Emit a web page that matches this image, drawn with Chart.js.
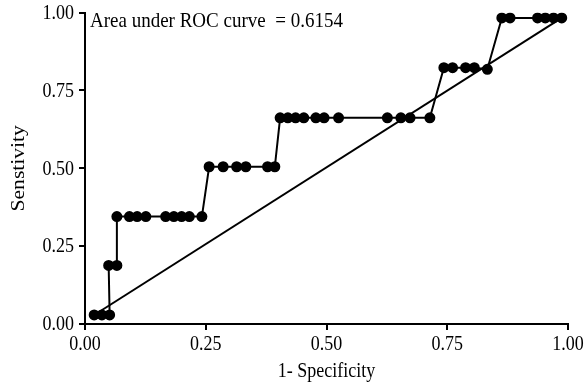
<!DOCTYPE html>
<html>
<head>
<meta charset="utf-8">
<script src="https://cdn.jsdelivr.net/npm/chart.js@4.4.1/dist/chart.umd.min.js"></script>
<style>
  html, body { margin: 0; padding: 0; background: #fff; }
  #wrap { width: 585px; height: 385px; }
</style>
</head>
<body>
<div id="wrap"><canvas id="rocChart" width="585" height="385"></canvas></div>
<script>
// 1 - specificity (x) and sensitivity (y) of the ROC curve points
const specX = [0.019, 0.035, 0.051, 0.049, 0.066, 0.066, 0.092, 0.108, 0.126, 0.167, 0.184, 0.200, 0.216, 0.242,
    0.257, 0.286, 0.314, 0.333, 0.378, 0.393,
    0.404, 0.420, 0.436, 0.453, 0.478, 0.495, 0.525, 0.626, 0.654, 0.673, 0.714,
    0.743, 0.761, 0.788, 0.806, 0.833,
    0.863, 0.880, 0.937, 0.953, 0.970, 0.987];
const sensY = [0.029, 0.029, 0.029, 0.188, 0.188, 0.345, 0.345, 0.345, 0.345, 0.345, 0.345, 0.345, 0.345, 0.345,
    0.505, 0.505, 0.505, 0.505, 0.505, 0.505,
    0.662, 0.662, 0.662, 0.662, 0.662, 0.662, 0.662, 0.662, 0.662, 0.662, 0.662,
    0.823, 0.823, 0.823, 0.823, 0.818,
    0.983, 0.983, 0.983, 0.983, 0.983, 0.983];
// reference line from first to last point
const refX = [0.019, 0.987];
const refY = [0.029, 0.983];
const tickValues = [0, 0.25, 0.5, 0.75, 1];
const aucText = 'Area under ROC curve  = 0.6154';
const xTitle = '1- Specificity';
const yTitle = 'Senstivity';

document.addEventListener('DOMContentLoaded', () => {
    const ctx = document.getElementById('rocChart').getContext('2d');
    const serif = '"Liberation Serif", "Times New Roman", serif';
    const stretch = 1.12;   // the original text looks a bit taller than wide

    const rocPoints = specX.map((x, i) => ({ x: x, y: sensY[i] }));
    const refPoints = refX.map((x, i) => ({ x: x, y: refY[i] }));

    function drawText(c, text, x, y, align, sx, sy, rot) {
        c.save();
        c.translate(x, y);
        if (rot) c.rotate(rot);
        c.scale(sx, sy);
        c.textAlign = align;
        c.textBaseline = 'middle';
        c.fillText(text, 0, 0);
        c.restore();
    }

    // tick labels, axis titles and the AUC note
    const textLayer = {
        id: 'textLayer',
        afterDraw(chart) {
            const c = chart.ctx;
            const xs = chart.scales.x, ys = chart.scales.y, area = chart.chartArea;
            c.save();
            c.fillStyle = '#000';
            c.font = '18px ' + serif;
            tickValues.forEach(v => {
                drawText(c, v.toFixed(2), xs.getPixelForValue(v), 345, 'center', 1, stretch);
                drawText(c, v.toFixed(2), 74, ys.getPixelForValue(v) + 1, 'right', 1, stretch);
            });
            drawText(c, xTitle, (area.left + area.right) / 2, 372, 'center', 1, stretch);
            drawText(c, yTitle, 19, (area.top + area.bottom) / 2, 'center', 1.2, 1, -Math.PI / 2);
            c.font = '19px ' + serif;
            drawText(c, aucText, area.left + 5, area.top + 9, 'left', 1, stretch);
            c.restore();
        }
    };

    const axisCommon = {
        type: 'linear',
        min: 0,
        max: 1,
        afterBuildTicks(scale) {
            scale.ticks = tickValues.map(v => ({ value: v }));
        },
        grid: {
            drawOnChartArea: false,
            drawTicks: true,
            tickLength: 6,
            color: '#000',
            lineWidth: 2
        },
        border: { color: '#000', width: 2 },
        ticks: {
            color: 'rgba(0,0,0,0)',
            font: { family: serif, size: 16 },
            padding: 3
        }
    };

    new Chart(ctx, {
        type: 'scatter',
        data: {
            datasets: [{
                label: 'ROC',
                data: rocPoints,
                showLine: true,
                borderColor: '#000',
                backgroundColor: '#000',
                borderWidth: 2,
                pointRadius: 4.5,
                pointHoverRadius: 4.5,
                tension: 0
            }, {
                label: 'Reference',
                data: refPoints,
                showLine: true,
                borderColor: '#000',
                borderWidth: 2,
                pointRadius: 0,
                tension: 0
            }]
        },
        options: {
            responsive: false,
            animation: false,
            devicePixelRatio: 1,
            layout: { padding: { top: 11, right: 17, left: 0, bottom: 0 } },
            plugins: {
                legend: { display: false },
                tooltip: { enabled: false }
            },
            scales: {
                x: Object.assign({}, axisCommon, {
                    position: 'bottom',
                    afterFit(scale) { scale.height = 61; }
                }),
                y: Object.assign({}, axisCommon, {
                    position: 'left',
                    afterFit(scale) { scale.width = 85; }
                })
            }
        },
        plugins: [textLayer]
    });
});
</script>
</body>
</html>
